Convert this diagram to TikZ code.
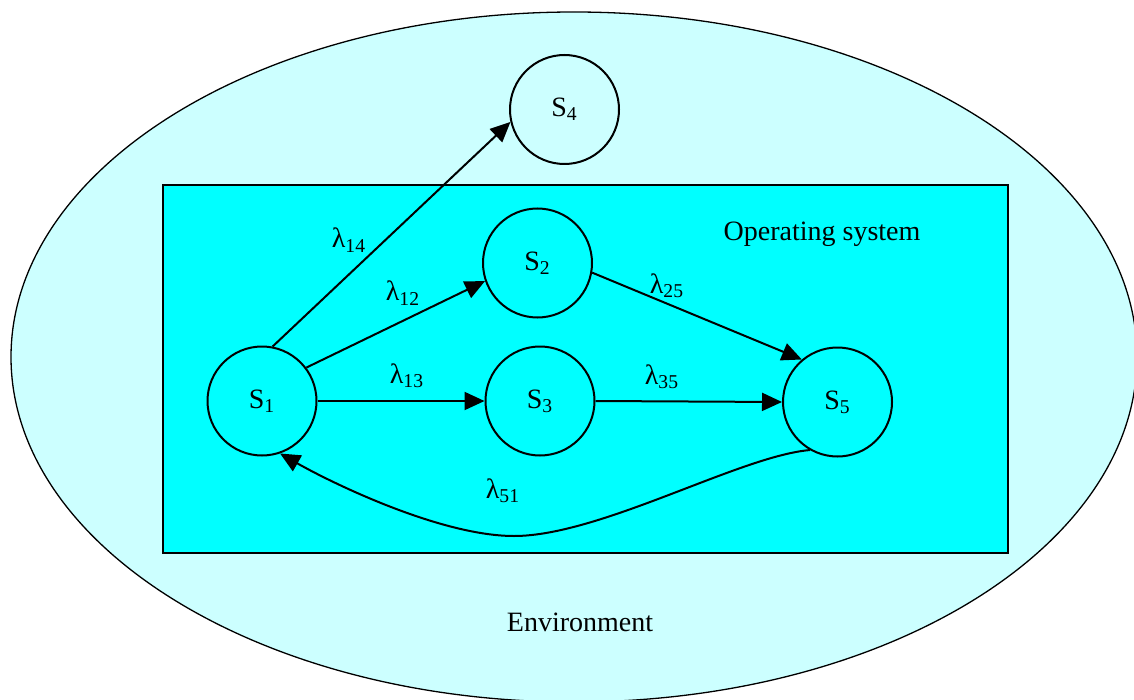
\documentclass[tikz,border=0pt]{standalone}
\usepackage{fontspec}
\setmainfont{Liberation Serif}
\usetikzlibrary{arrows.meta}
\definecolor{envfill}{HTML}{CCFFFF}
\definecolor{osfill}{HTML}{00FFFF}
\tikzset{
  stnode/.style={circle, draw, line width=1pt, minimum size=54.5pt, inner sep=0pt, font=\fontsize{14}{16}\selectfont},
  lbl/.style={inner sep=0pt, font=\fontsize{14}{16}\selectfont},
  arr/.style={line width=1pt, -{Triangle[length=10pt,width=9pt]}},
}
\begin{document}
\begin{tikzpicture}[x=0.5pt,y=-0.5pt]
\useasboundingbox (0,0) rectangle (1134,700);
\begin{scope}
\clip (0,0) rectangle (1134,700);
\draw[fill=envfill, line width=0.65pt] (574,357) ellipse [x radius=563, y radius=345];
\end{scope}
\draw[fill=osfill, line width=0.8pt] (163,185) rectangle (1008,553);

\node[stnode] (S4) at (564.5,109.5) {S\textsubscript{4}};
\node[stnode] (S2) at (537.5,263) {S\textsubscript{2}};
\node[stnode] (S1) at (262,401) {S\textsubscript{1}};
\node[stnode] (S3) at (540,401) {S\textsubscript{3}};
\node[stnode] (S5) at (837.5,402) {S\textsubscript{5}};

\node[lbl] (l14) at (349,240) {λ\textsubscript{14}};
\node[lbl] (l12) at (403,293) {λ\textsubscript{12}};
\node[lbl] (l13) at (407,376) {λ\textsubscript{13}};
\node[lbl] (l25) at (667,286) {λ\textsubscript{25}};
\node[lbl] (l35) at (662,377) {λ\textsubscript{35}};
\node[lbl] (l51) at (503,491) {λ\textsubscript{51}};
\node[lbl] (os) at (822,234) {Operating system};
\node[lbl] (env) at (580,622) {Environment};

\draw[arr] (S1.79) -- (S4.193);
\draw[arr] (S1.37) -- (S2.199);
\draw[arr] (S1.east) -- (S3.west);
\draw[arr] (S2.350) -- (S5.130);
\draw[arr] (S3.east) -- (S5.west);
\coordinate (low) at (514,536);
\draw[arr] (S5.240) .. controls (740,456) and (600,536) .. (low) .. controls (440,536) and (330,482) .. (S1.-71);
\end{tikzpicture}
\end{document}
